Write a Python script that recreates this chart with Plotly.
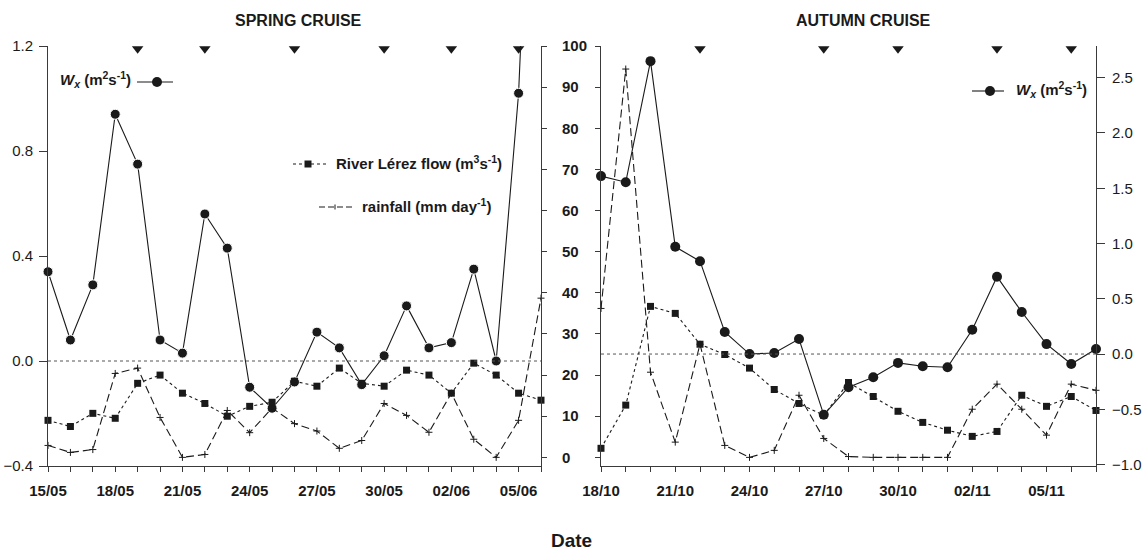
import pandas as pd
import plotly.graph_objects as go

# ---------------- data ----------------
spring_start = "2000-05-15"
autumn_start = "2000-10-18"

# Spring cruise (15/05 .. 06/06)
wx_spring = [0.34, 0.08, 0.29, 0.94, 0.75, 0.08, 0.03, 0.56, 0.43, -0.10, -0.18,
             -0.08, 0.11, 0.05, -0.09, 0.02, 0.21, 0.05, 0.07, 0.35, 0.00, 1.02, 3.0]
flow_spring = [9.0, 7.5, 10.7, 9.5, 18.0, 20.0, 15.6, 13.1, 10.0, 12.4, 13.4, 18.5,
               17.3, 21.7, 18.0, 17.3, 21.2, 20.0, 15.6, 22.9, 20.0, 15.6, 13.9]
rain_spring = [2.9, 1.2, 1.9, 20.4, 21.7, 9.7, 0.0, 0.7, 11.4, 6.0, 12.0, 8.2,
               6.4, 2.2, 4.1, 13.1, 10.2, 6.1, 15.6, 4.4, 0.0, 9.0, 38.7]
events_spring = ["2000-05-19", "2000-05-22", "2000-05-26", "2000-05-30", "2000-06-02", "2000-06-05"]

# Autumn cruise (18/10 .. 07/11)
wx_autumn = [1.61, 1.555, 2.65, 0.97, 0.84, 0.20, 0.0, 0.01, 0.136, -0.55, -0.30,
             -0.21, -0.08, -0.11, -0.12, 0.22, 0.70, 0.38, 0.09, -0.09, 0.045]
flow_autumn = [2.2, 12.7, 36.7, 35.0, 27.5, 25.0, 21.7, 16.5, 13.1, 10.2, 18.2,
               14.8, 11.2, 8.5, 6.6, 5.1, 6.3, 15.1, 12.4, 14.8, 11.4]
rain_autumn = [36.2, 94.4, 20.7, 3.7, 27.5, 2.9, 0.0, 1.7, 15.1, 4.6, 0.2,
               0.0, 0.0, 0.0, 0.0, 11.7, 17.8, 11.7, 5.4, 17.8, 16.3]
events_autumn = ["2000-10-22", "2000-10-27", "2000-10-30", "2000-11-03", "2000-11-06"]

dates_spring = pd.date_range(spring_start, periods=len(wx_spring), freq="D")
dates_autumn = pd.date_range(autumn_start, periods=len(wx_autumn), freq="D")

# ---------------- layout helpers ----------------
W, H = 1142, 551
def px(x):
    return x / W
def py(y):
    return 1 - y / H

FONT = "Liberation Sans, Arial, sans-serif"
INK = "#1a1a1a"
AX = "#3a3a3a"

WX_SP_RANGE = [-0.4, 1.2]
WX_AU_RANGE = [-1.013, 2.787]
FLOW_RANGE = [-2.1, 100]

fig = go.Figure()

# Spring Wx: line (clipped) + markers
fig.add_trace(go.Scatter(x=dates_spring, y=wx_spring, mode="lines", xaxis="x", yaxis="y",
                         line=dict(color=INK, width=1.1), cliponaxis=True, showlegend=False))
sizes_sp = [10] * (len(wx_spring) - 1) + [0]
fig.add_trace(go.Scatter(x=dates_spring, y=wx_spring, mode="markers", xaxis="x", yaxis="y",
                         marker=dict(color=INK, size=sizes_sp, symbol="circle", opacity=1),
                         cliponaxis=False, showlegend=False))
# Spring flow / rain
fig.add_trace(go.Scatter(x=dates_spring, y=flow_spring, mode="lines+markers", xaxis="x", yaxis="y2",
                         line=dict(color=INK, width=1.1, dash="dot"),
                         marker=dict(color=INK, size=7, symbol="square"),
                         cliponaxis=False, showlegend=False))
fig.add_trace(go.Scatter(x=dates_spring, y=rain_spring, mode="lines+markers", xaxis="x", yaxis="y2",
                         line=dict(color=INK, width=1.1, dash="8px,4px"),
                         marker=dict(color=INK, size=5, symbol="cross-thin", line=dict(color=INK, width=1)),
                         cliponaxis=False, showlegend=False))
# Spring event triangles
fig.add_trace(go.Scatter(x=pd.to_datetime(events_spring), y=[WX_SP_RANGE[1] - 0.01] * len(events_spring),
                         mode="markers", xaxis="x", yaxis="y",
                         marker=dict(color=INK, size=10, symbol="triangle-down"),
                         cliponaxis=False, showlegend=False))

# Autumn flow / rain
fig.add_trace(go.Scatter(x=dates_autumn, y=flow_autumn, mode="lines+markers", xaxis="x2", yaxis="y3",
                         line=dict(color=INK, width=1.1, dash="dot"),
                         marker=dict(color=INK, size=7, symbol="square"),
                         cliponaxis=False, showlegend=False))
fig.add_trace(go.Scatter(x=dates_autumn, y=rain_autumn, mode="lines+markers", xaxis="x2", yaxis="y3",
                         line=dict(color=INK, width=1.1, dash="8px,4px"),
                         marker=dict(color=INK, size=5, symbol="cross-thin", line=dict(color=INK, width=1)),
                         cliponaxis=False, showlegend=False))
# Autumn Wx
fig.add_trace(go.Scatter(x=dates_autumn, y=wx_autumn, mode="lines+markers", xaxis="x2", yaxis="y4",
                         line=dict(color=INK, width=1.1),
                         marker=dict(color=INK, size=10, symbol="circle"),
                         cliponaxis=False, showlegend=False))
fig.add_trace(go.Scatter(x=pd.to_datetime(events_autumn), y=[WX_AU_RANGE[1] - 0.025] * len(events_autumn),
                         mode="markers", xaxis="x2", yaxis="y4",
                         marker=dict(color=INK, size=10, symbol="triangle-down"),
                         cliponaxis=False, showlegend=False))

ydom = [py(466), py(46)]
DAY = 86400000
tickfont_b = dict(family=FONT, size=15, color=INK, weight="bold")
tickfont_r = dict(family=FONT, size=15, color=INK)

def xaxis_cfg(domain, anchor, start, end):
    return dict(domain=domain, anchor=anchor, type="date", range=[start, end],
                tickformat="%d/%m", dtick=3 * DAY, tick0=start,
                ticks="outside", ticklen=5, tickcolor=AX, tickwidth=1,
                minor=dict(dtick=DAY, tick0=start, ticks="outside", ticklen=5, tickcolor=AX, showgrid=False),
                showline=True, linecolor=AX, linewidth=1, showgrid=False, zeroline=False,
                tickfont=tickfont_b, ticklabelstandoff=6, automargin=False)

fig.update_layout(
    width=W, height=H,
    margin=dict(l=0, r=0, t=0, b=0, pad=0, autoexpand=False),
    paper_bgcolor="white", plot_bgcolor="rgba(0,0,0,0)",
    showlegend=False,
    xaxis=xaxis_cfg([px(48), px(541)], "y", "2000-05-15", "2000-06-06"),
    xaxis2=xaxis_cfg([px(601), px(1096)], "y3", "2000-10-18", "2000-11-07"),
    yaxis=dict(domain=ydom, anchor="x", range=WX_SP_RANGE, tickvals=[-0.4, 0.0, 0.4, 0.8, 1.2],
               tickformat=".1f", ticks="outside", ticklen=8, tickcolor=AX,
               showline=True, linecolor=AX, linewidth=1, showgrid=False, zeroline=False,
               tickfont=tickfont_r, ticklabelstandoff=3, automargin=False),
    yaxis2=dict(overlaying="y", side="right", anchor="x", range=FLOW_RANGE, tick0=0, dtick=10,
                ticks="outside", ticklen=5, tickcolor=AX,
                showline=True, linecolor=AX, linewidth=1, showgrid=False, zeroline=False,
                tickfont=tickfont_b, ticklabelstandoff=12, automargin=False),
    yaxis3=dict(domain=ydom, anchor="x2", range=FLOW_RANGE, tick0=0, dtick=10,
                ticks="outside", ticklen=5, tickcolor=AX, showticklabels=False,
                showline=True, linecolor=AX, linewidth=1, showgrid=False, zeroline=False,
                automargin=False),
    yaxis4=dict(overlaying="y3", side="right", anchor="x2", range=WX_AU_RANGE,
                tickvals=[-1.0, -0.5, 0.0, 0.5, 1.0, 1.5, 2.0, 2.5], tickformat=".1f",
                ticks="outside", ticklen=8, tickcolor=AX,
                showline=True, linecolor=AX, linewidth=1, showgrid=False, zeroline=False,
                tickfont=tickfont_r, ticklabelstandoff=4, automargin=False),
)

shapes = [
    # zero lines
    dict(type="line", xref="x domain", yref="y", x0=0, x1=1, y0=0, y1=0,
         line=dict(color="#555", width=1, dash="dot")),
    dict(type="line", xref="x2 domain", yref="y4", x0=0, x1=1, y0=0, y1=0,
         line=dict(color="#555", width=1, dash="dot")),
]

def leg_line(x0, x1, y, dash):
    return dict(type="line", xref="paper", yref="paper", x0=px(x0), x1=px(x1), y0=py(y), y1=py(y),
                line=dict(color=INK, width=1.1, dash=dash))

def leg_circle(cx, cy, r):
    return dict(type="circle", xref="paper", yref="paper", x0=px(cx - r), x1=px(cx + r),
                y0=py(cy + r), y1=py(cy - r), fillcolor=INK, line=dict(color=INK, width=0))

def leg_square(cx, cy, r):
    return dict(type="rect", xref="paper", yref="paper", x0=px(cx - r), x1=px(cx + r),
                y0=py(cy + r), y1=py(cy - r), fillcolor=INK, line=dict(color=INK, width=0))

shapes += [
    leg_line(137, 173, 82, "solid"), leg_circle(157, 82, 5),
    leg_line(293, 326, 164, "dot"), leg_square(308, 164, 3.5),
    leg_line(319, 353, 207, "6px,3px"),
    dict(type="line", xref="paper", yref="paper", x0=px(335), x1=px(335), y0=py(204.5), y1=py(209.5),
         line=dict(color=INK, width=1)),
    leg_line(972, 1004, 91, "solid"), leg_circle(990, 91, 5),
]
fig.update_layout(shapes=shapes)

wx_label = "<b><i>W</i></b><sub><b><i>x</i></b></sub><b> (m<sup>2</sup>s<sup>-1</sup>)</b>"
TITLE_FONT = dict(family="Liberation Sans Narrow, Liberation Sans, Arial, sans-serif", size=16, color=INK, weight="bold")
LEG_FONT = dict(family=FONT, size=15, color=INK)

annotations = [
    dict(text="SPRING CRUISE", x=px(298), y=py(21), xref="paper", yref="paper",
         xanchor="center", yanchor="middle", showarrow=False, font=TITLE_FONT),
    dict(text="AUTUMN CRUISE", x=px(863), y=py(21), xref="paper", yref="paper",
         xanchor="center", yanchor="middle", showarrow=False, font=TITLE_FONT),
    dict(text="<b>Date</b>", x=px(571), y=py(540), xref="paper", yref="paper",
         xanchor="center", yanchor="middle", showarrow=False,
         font=dict(family=FONT, size=19, color=INK)),
    dict(text=wx_label, x=px(58), y=py(80), xref="paper", yref="paper",
         xanchor="left", yanchor="middle", showarrow=False, font=LEG_FONT),
    dict(text="<b>River Lérez flow (m<sup>3</sup>s<sup>-1</sup>)</b>", x=px(334), y=py(162),
         xref="paper", yref="paper", xanchor="left", yanchor="middle", showarrow=False, font=LEG_FONT),
    dict(text="<b>rainfall (mm day<sup>-1</sup>)</b>", x=px(360), y=py(205),
         xref="paper", yref="paper", xanchor="left", yanchor="middle", showarrow=False, font=LEG_FONT),
    dict(text=wx_label, x=px(1014), y=py(89), xref="paper", yref="paper",
         xanchor="left", yanchor="middle", showarrow=False, font=LEG_FONT),
]
fig.update_layout(annotations=annotations)

fig.write_html("out.html", config={"displayModeBar": False},
               post_script="document.body.style.margin='0';document.body.style.overflow='hidden';")
